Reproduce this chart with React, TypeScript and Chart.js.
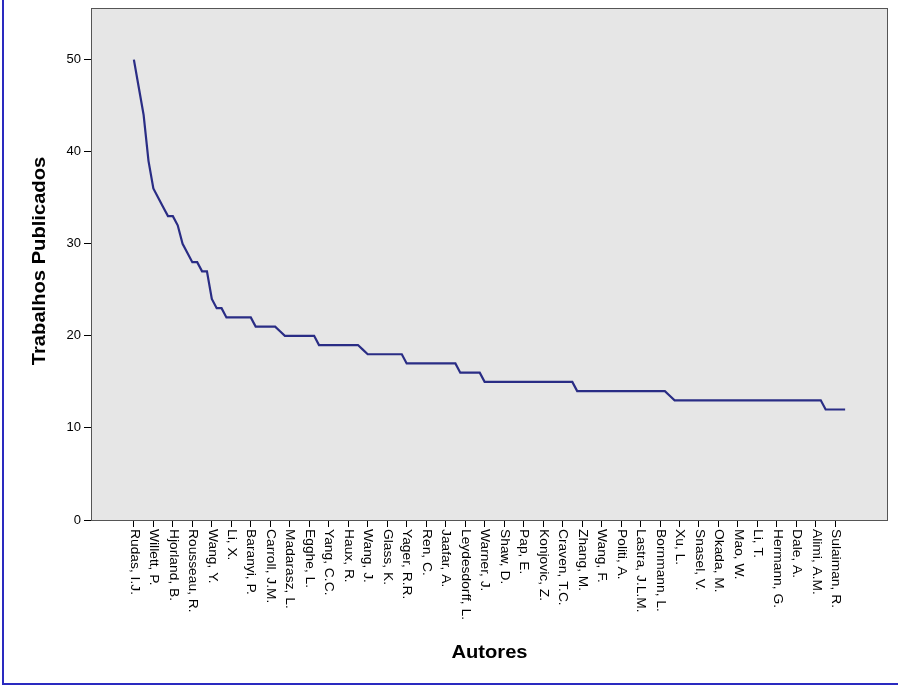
import { useEffect, useRef } from 'react';
import { Chart, registerables } from 'chart.js';

Chart.register(...registerables);

// Trabalhos publicados por autor (ordenado decrescente)
const publicacoes: number[] = [
  50, 47, 44, 39, 36, 35, 34, 33, 33, 32,
  30, 29, 28, 28, 27, 27, 24, 23, 23, 22,
  22, 22, 22, 22, 22, 21, 21, 21, 21, 21,
  20.5, 20, 20, 20, 20, 20, 20, 20, 19, 19,
  19, 19, 19, 19, 19, 19, 19, 18.5, 18, 18,
  18, 18, 18, 18, 18, 18, 17, 17, 17, 17,
  17, 17, 17, 17, 17, 17, 17, 16, 16, 16,
  16, 16, 15, 15, 15, 15, 15, 15, 15, 15,
  15, 15, 15, 15, 15, 15, 15, 15, 15, 15,
  15, 14, 14, 14, 14, 14, 14, 14, 14, 14,
  14, 14, 14, 14, 14, 14, 14, 14, 14, 14,
  13.5, 13, 13, 13, 13, 13, 13, 13, 13, 13,
  13, 13, 13, 13, 13, 13, 13, 13, 13, 13,
  13, 13, 13, 13, 13, 13, 13, 13, 13, 13,
  13, 13, 12, 12, 12, 12, 12,
];

// Autores rotulados no eixo (um rótulo a cada 4 categorias)
const autoresRotulados: string[] = [
  'Rudas, I.J.', 'Willett, P.', 'Hjorland, B.', 'Rousseau, R.', 'Wang, Y.',
  'Li, X.', 'Baranyi, P.', 'Carroll, J.M.', 'Madarasz, L.', 'Egghe, L.',
  'Yang, C.C.', 'Haux, R.', 'Wang, J.', 'Glass, K.', 'Yager, R.R.',
  'Ren, C.', 'Jaafar, A.', 'Leydesdorff, L.', 'Warner, J.', 'Shaw, D.',
  'Pap, E.', 'Konjovic, Z.', 'Craven, T.C.', 'Zhang, M.', 'Wang, F.',
  'Politi, A.', 'Lastra, J.L.M.', 'Bornmann, L.', 'Xu, L.', 'Snasel, V.',
  'Okada, M.', 'Mao, W.', 'Li, T.', 'Hermann, G.', 'Dale, A.',
  'Alimi, A.M.', 'Sulaiman, R.',
];
const passoRotulo = 4;

const yTicks: number[] = [0, 10, 20, 30, 40, 50];
const yTitulo = 'Trabalhos Publicados';
const xTitulo = 'Autores';

export default function App() {
  const ref = useRef<HTMLCanvasElement>(null);

  useEffect(() => {
    document.body.style.margin = '0';
    const canvas = ref.current;
    if (!canvas) return;
    const fam = '"Liberation Sans", Arial, sans-serif';

    const decor = {
      id: 'spssDecor',
      beforeDraw(chart: any) {
        const { ctx, chartArea: a } = chart;
        ctx.save();
        ctx.fillStyle = '#e6e6e6';
        ctx.fillRect(a.left, a.top, a.right - a.left, a.bottom - a.top);
        ctx.restore();
      },
      afterDraw(chart: any) {
        const { ctx, chartArea: a, scales } = chart;
        ctx.save();
        ctx.strokeStyle = '#555555';
        ctx.lineWidth = 1;
        ctx.strokeRect(a.left + 0.5, a.top + 0.5, a.right - a.left - 1, a.bottom - a.top);

        ctx.fillStyle = '#000';
        ctx.font = `12px ${fam}`;
        ctx.textAlign = 'left';
        ctx.textBaseline = 'middle';
        autoresRotulados.forEach((nome, k) => {
          const x = scales.x.getPixelForValue(k * passoRotulo);
          ctx.save();
          ctx.translate(x, a.bottom + 9);
          ctx.rotate(Math.PI / 2);
          ctx.scale(1.15, 1);
          ctx.fillText(nome, 0, 0);
          ctx.restore();
        });

        ctx.font = `bold 18px ${fam}`;
        ctx.textAlign = 'center';
        ctx.textBaseline = 'middle';
        ctx.save();
        ctx.translate(40, 261);
        ctx.rotate(-Math.PI / 2);
        ctx.scale(1.12, 1);
        ctx.fillText(yTitulo, 0, 0);
        ctx.restore();

        ctx.save();
        ctx.translate((a.left + a.right) / 2, 653);
        ctx.scale(1.12, 1);
        ctx.fillText(xTitulo, 0, 0);
        ctx.restore();
        ctx.restore();
      },
    };

    const chart = new Chart(canvas, {
      type: 'line',
      data: {
        datasets: [
          {
            data: publicacoes.map((v, i) => ({ x: i, y: v })),
            borderColor: '#2a2d85',
            borderWidth: 2.2,
            pointRadius: 0,
            tension: 0,
            fill: false,
          },
        ],
      },
      options: {
        responsive: false,
        animation: false,
        layout: { padding: { top: 8, right: 10, left: 26, bottom: 0 } },
        plugins: { legend: { display: false }, tooltip: { enabled: false } },
        scales: {
          x: {
            type: 'linear',
            min: -8.8,
            max: publicacoes.length - 1 + 8.8,
            afterBuildTicks: (s: any) => {
              s.ticks = autoresRotulados.map((_, k) => ({ value: k * passoRotulo }));
            },
            afterFit: (s: any) => {
              s.height = 168;
              s.paddingLeft = 0;
              s.paddingRight = 0;
            },
            ticks: { display: false },
            grid: { drawOnChartArea: false, drawTicks: true, tickLength: 7, tickColor: '#000', tickWidth: 1 },
            border: { display: false },
          },
          y: {
            type: 'linear',
            min: 0,
            max: 55.6,
            afterBuildTicks: (s: any) => {
              s.ticks = yTicks.map((v) => ({ value: v }));
            },
            afterFit: (s: any) => {
              s.width = 65;
              s.paddingTop = 0;
              s.paddingBottom = 0;
            },
            ticks: { color: '#000', font: { family: fam, size: 13 }, padding: 3 },
            grid: { drawOnChartArea: false, drawTicks: true, tickLength: 7, tickColor: '#000', tickWidth: 1 },
            border: { display: false },
          },
        },
      },
      plugins: [decor],
    });
    return () => chart.destroy();
  }, []);

  return (
    <div style={{ position: 'relative', width: 898, height: 688, background: '#fff' }}>
      <canvas ref={ref} width={898} height={688} style={{ display: 'block' }} />
      <div
        style={{
          position: 'absolute',
          left: 2,
          top: 0,
          width: 896,
          height: 685,
          borderLeft: '2px solid #2a2ac0',
          borderBottom: '2px solid #2a2ac0',
          boxSizing: 'border-box',
          pointerEvents: 'none',
        }}
      />
    </div>
  );
}
